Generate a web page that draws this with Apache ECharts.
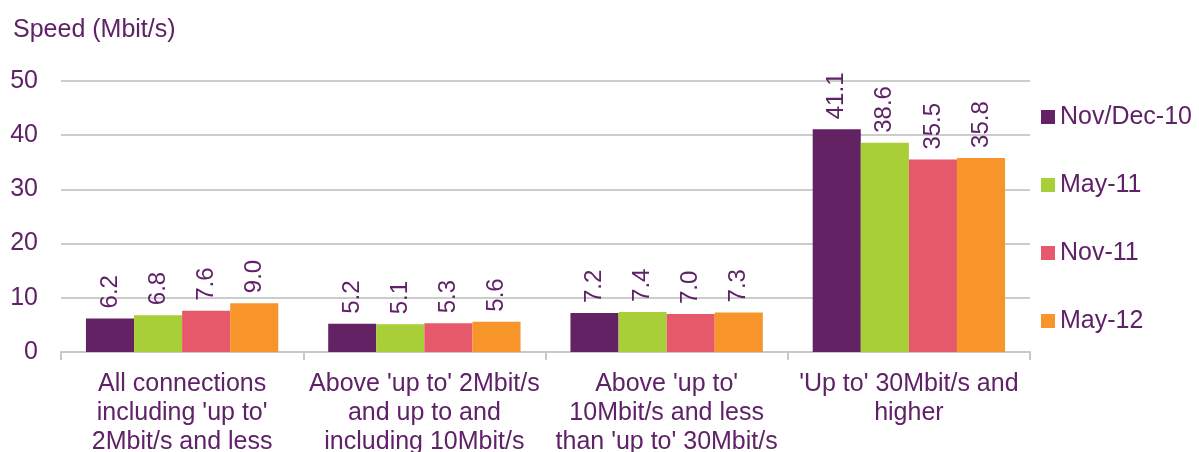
<!DOCTYPE html>
<html>
<head>
<meta charset="utf-8">
<script src="https://cdn.jsdelivr.net/npm/echarts@6/dist/echarts.min.js"></script>
<style>
  html, body { margin: 0; padding: 0; background: #ffffff; }
  #chart { width: 1199px; height: 452px; }
</style>
</head>
<body>
<div id="chart"></div>
<script>
// Broadband speed categories (x axis)
const categories = [
  "All connections\nincluding 'up to'\n2Mbit/s and less",
  "Above 'up to' 2Mbit/s\nand up to and\nincluding 10Mbit/s",
  "Above 'up to'\n10Mbit/s and less\nthan 'up to' 30Mbit/s",
  "'Up to' 30Mbit/s and\nhigher"
];

// Survey periods
const periods = ["Nov/Dec-10", "May-11", "Nov-11", "May-12"];

// Average speed (Mbit/s) per period
const novDec10 = [6.2, 5.2, 7.2, 41.1];
const may11 = [6.8, 5.1, 7.4, 38.6];
const nov11 = [7.6, 5.3, 7.0, 35.5];
const may12 = [9.0, 5.6, 7.3, 35.8];

const seriesValues = [novDec10, may11, nov11, may12];
const colors = ["#632263", "#a8ce38", "#e6596a", "#f7952b"];

const textColor = "#5f2167";
const fontFamily = "'Liberation Sans', Arial, sans-serif";

const chart = echarts.init(document.getElementById("chart"));

chart.setOption({
  animation: false,
  textStyle: { fontFamily: fontFamily, color: textColor },
  title: {
    text: "Speed (Mbit/s)",
    left: 8,
    top: 13,
    textStyle: { fontFamily: fontFamily, color: textColor, fontSize: 25, fontWeight: "normal" }
  },
  legend: {
    orient: "vertical",
    left: 1036,
    top: 98,
    itemWidth: 14,
    itemHeight: 14,
    itemGap: 40,
    icon: "rect",
    data: periods,
    textStyle: { fontFamily: fontFamily, color: textColor, fontSize: 25, lineHeight: 28 }
  },
  grid: {
    left: 61, right: 169, top: 81, bottom: 100,
    containLabel: false,
    outerBoundsMode: "none"
  },
  xAxis: {
    type: "category",
    data: categories,
    axisLine: { lineStyle: { color: "#c8c8c8", width: 2 } },
    axisTick: { show: true, alignWithLabel: false, length: 8, lineStyle: { color: "#c8c8c8", width: 2 } },
    axisLabel: {
      interval: 0,
      margin: 18,
      fontSize: 25,
      lineHeight: 29,
      color: textColor,
      fontFamily: fontFamily,
      align: "center"
    }
  },
  yAxis: {
    type: "value",
    min: 0,
    max: 50,
    interval: 10,
    axisLine: { show: false },
    axisTick: { show: false },
    splitLine: { lineStyle: { color: "#cccccc", width: 2 } },
    axisLabel: { fontSize: 25, color: textColor, fontFamily: fontFamily, margin: 23 }
  },
  series: periods.map((name, i) => ({
    name: name,
    type: "bar",
    data: seriesValues[i],
    barGap: "0%",
    barCategoryGap: "20.6%",
    itemStyle: { color: colors[i] },
    label: {
      show: true,
      position: "top",
      rotate: 90,
      align: "left",
      verticalAlign: "middle",
      distance: 10,
      fontSize: 24,
      color: textColor,
      fontFamily: fontFamily,
      formatter: p => p.value.toFixed(1)
    }
  }))
});
</script>
</body>
</html>
